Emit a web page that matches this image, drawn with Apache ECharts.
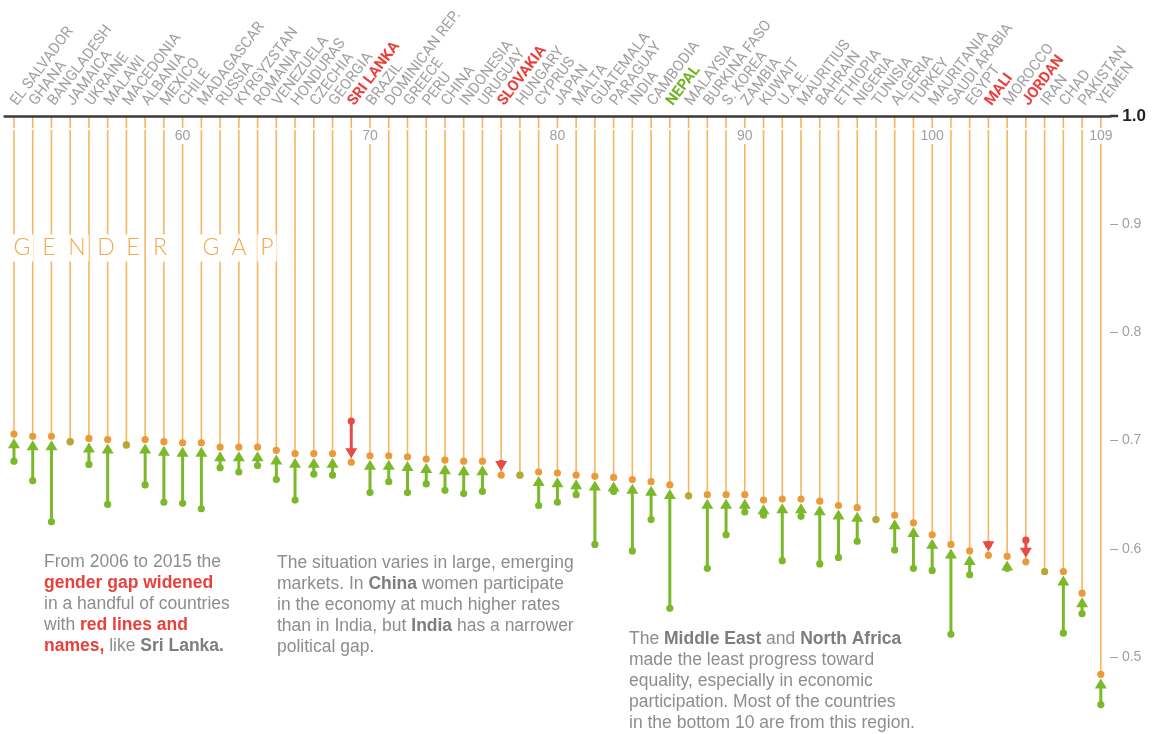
<!DOCTYPE html>
<html>
<head>
<meta charset="utf-8">
<title>Gender gap</title>
<script src="https://cdn.jsdelivr.net/npm/echarts@6/dist/echarts.min.js"></script>
<style>
  html, body { margin: 0; padding: 0; background: #fff; }
  #chart { width: 1160px; height: 734px; }
</style>
</head>
<body>
<div id="chart"></div>
<script>
// 排名 51 - 109 的国家
const countries = ['EL SALVADOR', 'GHANA', 'BANGLADESH', 'JAMAICA', 'UKRAINE', 'MALAWI', 'MACEDONIA', 'ALBANIA', 'MEXICO', 'CHILE',
  'MADAGASCAR', 'RUSSIA', 'KYRGYZSTAN', 'ROMANIA', 'VENEZUELA', 'HONDURAS', 'CZECHIA', 'GEORGIA', 'SRI LANKA', 'BRAZIL',
  'DOMINICAN REP.', 'GREECE', 'PERU', 'CHINA', 'INDONESIA', 'URUGUAY', 'SLOVAKIA', 'HUNGARY', 'CYPRUS', 'JAPAN',
  'MALTA', 'GUATEMALA', 'PARAGUAY', 'INDIA', 'CAMBODIA', 'NEPAL', 'MALAYSIA', 'BURKINA FASO', 'S. KOREA', 'ZAMBIA',
  'KUWAIT', 'U.A.E.', 'MAURITIUS', 'BAHRAIN', 'ETHIOPIA', 'NIGERIA', 'TUNISIA', 'ALGERIA', 'TURKEY', 'MAURITANIA',
  'SAUDI ARABIA', 'EGYPT', 'MALI', 'MOROCCO', 'JORDAN', 'IRAN', 'CHAD', 'PAKISTAN', 'YEMEN']
const firstRank = 51
const rankLabels = [60, 70, 80, 90, 100, 109]
// 2006 分数
const gap2006 = [0.681, 0.663, 0.625, 0.699, 0.678, 0.641, 0.696, 0.659, 0.643, 0.642,
  0.637, 0.675, 0.671, 0.677, 0.664, 0.645, 0.669, 0.668, 0.718, 0.652,
  0.662, 0.652, 0.660, 0.654, 0.651, 0.653, 0.679, 0.668, 0.640, 0.643,
  0.650, 0.604, 0.653, 0.598, 0.627, 0.545, 0.649, 0.582, 0.613, 0.634,
  0.631, 0.589, 0.630, 0.586, 0.592, 0.607, 0.627, 0.599, 0.582, 0.580,
  0.521, 0.576, 0.604, 0.582, 0.608, 0.579, 0.522, 0.540, 0.456]
// 2015 分数
const gap2015 = [0.706, 0.704, 0.704, 0.699, 0.702, 0.701, 0.696, 0.701, 0.699, 0.698,
  0.698, 0.694, 0.694, 0.694, 0.691, 0.688, 0.688, 0.688, 0.680, 0.686,
  0.686, 0.685, 0.683, 0.682, 0.681, 0.681, 0.668, 0.668, 0.671, 0.670,
  0.668, 0.667, 0.666, 0.664, 0.662, 0.659, 0.649, 0.650, 0.650, 0.650,
  0.645, 0.646, 0.646, 0.644, 0.640, 0.638, 0.627, 0.631, 0.624, 0.613,
  0.604, 0.598, 0.594, 0.593, 0.588, 0.579, 0.579, 0.559, 0.484]
const yTicks = [1.0, 0.9, 0.8, 0.7, 0.6, 0.5]
const redNames = ['SRI LANKA', 'SLOVAKIA', 'MALI', 'JORDAN']
const greenNames = ['NEPAL']

const ORANGE_LINE = '#f6b661'
const ORANGE_DOT = '#eb9a3b'
const GREEN = '#7bb82a'
const RED = '#e84a48'
const GRAY = '#a0a0a0'
const FONT = 'Liberation Sans, Arial, sans-serif'

let myChart = echarts.init(document.getElementById('chart'))

function renderItem(params, api) {
  let i = api.value(0)
  let v06 = api.value(1)
  let v15 = api.value(2)
  let top = api.coord([i, 1.0])
  let p15 = api.coord([i, v15])
  let p06 = api.coord([i, v06])
  let x = p15[0]
  let r = 3.6
  let children = [{
    type: 'line',
    shape: { x1: x, y1: top[1], x2: x, y2: p15[1] },
    style: { stroke: ORANGE_LINE, lineWidth: 1.6 }
  }]
  if (Math.abs(p06[1] - p15[1]) > 1) {
    let up = v15 > v06
    let color = up ? GREEN : RED
    let dir = up ? 1 : -1
    let tipY = p15[1] + dir * (r + 0.5)
    let baseY = tipY + dir * 9
    children.push({
      type: 'line',
      shape: { x1: x, y1: baseY, x2: x, y2: p06[1] },
      style: { stroke: color, lineWidth: 3 }
    })
    children.push({
      type: 'polygon',
      shape: { points: [[x, tipY], [x - 6, baseY + dir * 1], [x + 6, baseY + dir * 1]] },
      style: { fill: color }
    })
    children.push({ type: 'circle', shape: { cx: x, cy: p06[1], r: r }, style: { fill: color } })
    children.push({ type: 'circle', shape: { cx: x, cy: p15[1], r: r }, style: { fill: ORANGE_DOT } })
  } else {
    children.push({ type: 'circle', shape: { cx: x, cy: p06[1], r: r }, style: { fill: GREEN } })
    children.push({ type: 'circle', shape: { cx: x, cy: p15[1], r: r }, style: { fill: ORANGE_DOT, opacity: 0.55 } })
  }
  return { type: 'group', children: children }
}

// 标题字母
let title = ['G', 'E', 'N', 'D', 'E', 'R', 'G', 'A', 'P']
let titleX = [22, 49, 77, 106, 133, 160, 211, 239, 267]
let titleGraphics = title.map((ch, k) => ({
  type: 'text',
  z: 10,
  style: {
    text: ch, x: titleX[k], y: 248, align: 'center', verticalAlign: 'middle',
    fontSize: 23, fontFamily: 'Lato, Roboto, sans-serif', fontWeight: 300,
    fill: '#f3a84a', backgroundColor: '#fff', padding: [2, 3]
  }
}))

function rich(fill, weight) {
  return { fill: fill, fontWeight: weight, fontSize: 17.5, fontFamily: FONT, lineHeight: 21 }
}
let noteRich = { r: rich('#e8413c', 'bold'), b: rich('#7d7d7d', 'bold'), n: rich('#8d8d8d', 'normal') }

let notes = [
  { x: 44, y: 552, text: '{n|From 2006 to 2015 the}\n{r|gender gap widened}\n{n|in a handful of countries}\n{n|with }{r|red lines and}\n{r|names,}{n| like }{b|Sri Lanka.}' },
  { x: 277, y: 553, text: '{n|The situation varies in large, emerging}\n{n|markets. In }{b|China}{n| women participate}\n{n|in the economy at much higher rates}\n{n|than in India, but }{b|India}{n| has a narrower}\n{n|political gap.}' },
  { x: 629, y: 629, text: '{n|The }{b|Middle East}{n| and }{b|North Africa}\n{n|made the least progress toward}\n{n|equality, especially in economic}\n{n|participation. Most of the countries}\n{n|in the bottom 10 are from this region.}' }
]
let noteGraphics = notes.map(n => ({
  type: 'text',
  z: 10,
  style: { text: n.text, x: n.x, y: n.y, rich: noteRich, fontSize: 17.5, fontFamily: FONT, lineHeight: 21 }
}))

let option = {
  backgroundColor: '#fff',
  animation: false,
  grid: { left: 4.6, width: 1105.6, top: 116, height: 649.2, containLabel: false, outerBoundsMode: 'none' },
  xAxis: [{
    type: 'category',
    position: 'top',
    boundaryGap: true,
    data: countries,
    z: 6,
    axisLine: { show: true, lineStyle: { color: '#3a3a3a', width: 2.5 } },
    axisTick: { show: false },
    axisLabel: {
      interval: 0,
      rotate: -53,
      margin: 12,
      fontSize: 15,
      fontFamily: 'Roboto, sans-serif',
      color: GRAY,
      formatter: function (name) {
        if (redNames.includes(name)) return '{r|' + name + '}'
        if (greenNames.includes(name)) return '{g|' + name + '}'
        return name
      },
      rich: {
        r: { color: '#e8413c', fontWeight: 'bold', fontSize: 15, fontFamily: 'Roboto, sans-serif' },
        g: { color: '#6fb423', fontWeight: 'bold', fontSize: 15, fontFamily: 'Roboto, sans-serif' }
      }
    }
  }, {
    type: 'category',
    position: 'top',
    boundaryGap: true,
    data: countries.map((c, i) => String(firstRank + i)),
    z: 6,
    axisLine: { show: false },
    axisTick: { show: false },
    axisLabel: {
      inside: true,
      interval: 0,
      margin: 12,
      fontSize: 14,
      fontFamily: FONT,
      color: GRAY,
      backgroundColor: '#fff',
      padding: [1, 1],
      formatter: function (v) {
        return rankLabels.includes(Number(v)) ? v : ''
      }
    }
  }],
  yAxis: {
    type: 'value',
    position: 'right',
    min: 0.4,
    max: 1.0,
    interval: 0.1,
    axisLine: { show: false },
    axisTick: { show: false },
    splitLine: { show: false },
    axisLabel: {
      margin: 0,
      fontSize: 14,
      fontFamily: FONT,
      color: GRAY,
      formatter: function (v) {
        let t = yTicks.find(k => Math.abs(k - v) < 1e-6)
        if (t === undefined) return ''
        if (t === 1.0) return '{d|}{b|1.0}'
        return '{s|– }' + t.toFixed(1)
      },
      rich: {
        d: { width: 8, height: 2.5, backgroundColor: '#3a3a3a' },
        b: { fontSize: 17, fontWeight: 'bold', color: '#222', fontFamily: FONT, padding: [0, 0, 0, 4] },
        s: { fontSize: 14, color: GRAY, fontFamily: FONT }
      }
    }
  },
  graphic: titleGraphics.concat(noteGraphics),
  series: [{
    type: 'custom',
    xAxisIndex: 0,
    renderItem: renderItem,
    encode: { x: 0, y: [1, 2] },
    data: countries.map((c, i) => [i, gap2006[i], gap2015[i]])
  }]
}
myChart.setOption(option)
</script>
</body>
</html>
